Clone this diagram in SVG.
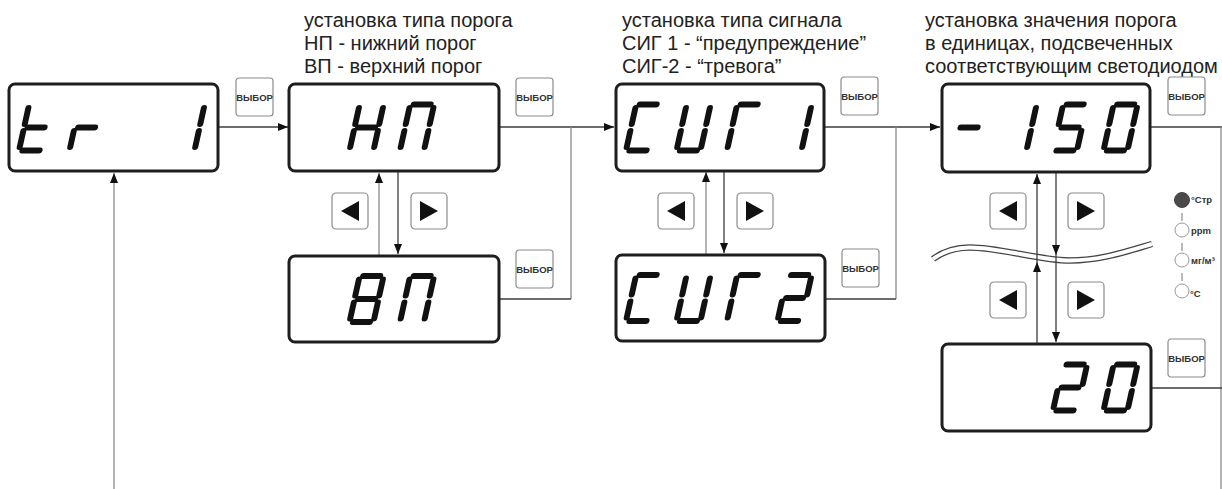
<svg xmlns="http://www.w3.org/2000/svg" xmlns:xlink="http://www.w3.org/1999/xlink" width="1222" height="489" viewBox="0 0 1222 489">
<style>
.disp{fill:#fff;stroke:#1e1e1e;stroke-width:3}
.dig{stroke:#111;stroke-width:6;stroke-linecap:round;fill:none}
.btn{fill:#fff;stroke:#8c8c8c;stroke-width:1.2}
.btxt{font-family:"Liberation Sans",Arial,sans-serif;font-weight:bold;font-size:9.5px;fill:#333;text-anchor:middle}
.tri{fill:#111}
.lbl{font-family:"Liberation Sans",Arial,sans-serif;font-size:20px;fill:#222}
.conn{stroke:#3c3c3c;stroke-width:1.3;fill:none}
.connv{stroke:#8a8a8a;stroke-width:1.3;fill:none}
.led{font-family:"Liberation Sans",Arial,sans-serif;font-weight:bold;font-size:9.5px;fill:#333}
</style>
<defs>
<marker id="ah" viewBox="0 0 10 8" refX="10" refY="4" markerWidth="10" markerHeight="8" markerUnits="userSpaceOnUse" orient="auto">
<path d="M0,0 L10,4 L0,8 z" fill="#111"/>
</marker>
<line id="sa" x1="3.5" y1="-46" x2="20.5" y2="-46"/>
<line id="sb" x1="24" y1="-42.5" x2="24" y2="-26.5"/>
<line id="sc" x1="24" y1="-19.5" x2="24" y2="-3.5"/>
<line id="sd" x1="3.5" y1="0" x2="20.5" y2="0"/>
<line id="se" x1="0" y1="-19.5" x2="0" y2="-3.5"/>
<line id="sf" x1="0" y1="-42.5" x2="0" y2="-26.5"/>
<line id="sg" x1="3.5" y1="-23" x2="20.5" y2="-23"/>
<g id="vybor">
<rect class="btn" x="0" y="0" width="37" height="38" rx="3"/>
<text class="btxt" x="18.5" y="22.5">ВЫБОР</text>
</g>
<g id="bl">
<rect class="btn" x="0" y="0" width="36" height="36" rx="4"/>
<path class="tri" d="M9,18 L27,8 L27,28 z"/>
</g>
<g id="br">
<rect class="btn" x="0" y="0" width="36" height="36" rx="4"/>
<path class="tri" d="M27,18 L9,8 L9,28 z"/>
</g>
</defs>

<rect width="1222" height="489" fill="#fff"/>

<g id="labels">
<text class="lbl" x="304" y="27">установка типа порога</text>
<text class="lbl" x="304" y="50">НП - нижний порог</text>
<text class="lbl" x="304" y="73">ВП - верхний порог</text>
<text class="lbl" x="622" y="27">установка типа сигнала</text>
<text class="lbl" x="622" y="50">СИГ 1 - “предупреждение”</text>
<text class="lbl" x="622" y="73">СИГ-2 - “тревога”</text>
<text class="lbl" x="925" y="27">установка значения порога</text>
<text class="lbl" x="925" y="50">в единицах, подсвеченных</text>
<text class="lbl" x="925" y="73">соответствующим светодиодом</text>
</g>

<g id="wave">
<path d="M933,259 C945,250 957,247.5 970,247.5 C1000,247.5 1040,260.5 1070,260.5 C1100,260.5 1125,252 1152,244" fill="none" stroke="#444" stroke-width="6.5"/>
<path d="M933,259 C945,250 957,247.5 970,247.5 C1000,247.5 1040,260.5 1070,260.5 C1100,260.5 1125,252 1152,244" fill="none" stroke="#fff" stroke-width="4"/>
</g>

<g id="connectors">
<path class="conn" d="M219,127 H288" marker-end="url(#ah)"/>
<path class="conn" d="M500,127 H614" marker-end="url(#ah)"/>
<path class="connv" d="M571,127 V299"/>
<path class="conn" d="M500,299 H571"/>
<path class="conn" d="M825,127 H940" marker-end="url(#ah)"/>
<path class="connv" d="M896,127 V299"/>
<path class="conn" d="M825,299 H896"/>
<path class="conn" d="M1151,127 H1222"/>
<path class="connv" d="M1221,127 V489"/>
<path class="conn" d="M1152,388 H1222"/>
<path class="connv" d="M114,489 V173" marker-end="url(#ah)"/>
<path class="connv" d="M379,255 V173" marker-end="url(#ah)"/>
<path class="conn" d="M398,172 V254" marker-end="url(#ah)"/>
<path class="connv" d="M706,254 V172" marker-end="url(#ah)"/>
<path class="conn" d="M724,172 V253" marker-end="url(#ah)"/>
<path class="conn" d="M1037,343 V262" marker-end="url(#ah)"/>
<path class="conn" d="M1037,262 V174" marker-end="url(#ah)"/>
<path class="conn" d="M1056,173 V255" marker-end="url(#ah)"/>
<path class="conn" d="M1056,255 V342" marker-end="url(#ah)"/>
</g>

<g id="node-tr1">
<rect class="disp" x="9" y="84" width="209" height="87" rx="6"/>
<g class="dig" aria-label="tr 1">
<g transform="translate(19 150.5) skewX(-12.4)"><use href="#sf"/><use href="#se"/><use href="#sg"/><use href="#sd"/></g>
<g transform="translate(69.5 150.5) skewX(-12.4)"><use href="#se"/><use href="#sg"/></g>
<g transform="translate(170.5 150.5) skewX(-12.4)"><use href="#sb"/><use href="#sc"/></g>
</g>
<use href="#vybor" x="236" y="78"/>
</g>

<g id="node-np">
<rect class="disp" x="289" y="84" width="210" height="87" rx="6"/>
<g class="dig" aria-label="НП">
<g transform="translate(349.5 150.5) skewX(-12.4)"><use href="#sb"/><use href="#sc"/><use href="#se"/><use href="#sf"/><use href="#sg"/></g>
<g transform="translate(400 150.5) skewX(-12.4)"><use href="#sa"/><use href="#sb"/><use href="#sc"/><use href="#se"/><use href="#sf"/></g>
</g>
<use href="#vybor" x="516" y="78"/>
<use href="#bl" x="332" y="193"/>
<use href="#br" x="411" y="193"/>
</g>

<g id="node-vp">
<rect class="disp" x="289" y="256" width="210" height="86" rx="6"/>
<g class="dig" aria-label="ВП">
<g transform="translate(349.5 322) skewX(-12.4)"><use href="#sa"/><use href="#sb"/><use href="#sc"/><use href="#sd"/><use href="#se"/><use href="#sf"/><use href="#sg"/></g>
<g transform="translate(400 322) skewX(-12.4)"><use href="#sa"/><use href="#sb"/><use href="#sc"/><use href="#se"/><use href="#sf"/></g>
</g>
<use href="#vybor" x="516" y="250"/>
</g>

<g id="node-sig1">
<rect class="disp" x="616" y="84" width="208" height="87" rx="6"/>
<g class="dig" aria-label="СИГ 1">
<g transform="translate(626 150.5) skewX(-12.4)"><use href="#sa"/><use href="#sd"/><use href="#se"/><use href="#sf"/></g>
<g transform="translate(676.5 150.5) skewX(-12.4)"><use href="#sb"/><use href="#sc"/><use href="#sd"/><use href="#se"/><use href="#sf"/></g>
<g transform="translate(727 150.5) skewX(-12.4)"><use href="#sa"/><use href="#se"/><use href="#sf"/></g>
<g transform="translate(777.5 150.5) skewX(-12.4)"><use href="#sb"/><use href="#sc"/></g>
</g>
<use href="#vybor" x="841" y="77"/>
<use href="#bl" x="658" y="193"/>
<use href="#br" x="737" y="193"/>
</g>

<g id="node-sig2">
<rect class="disp" x="616" y="255" width="209" height="86" rx="6"/>
<g class="dig" aria-label="СИГ 2">
<g transform="translate(626 321) skewX(-12.4)"><use href="#sa"/><use href="#sd"/><use href="#se"/><use href="#sf"/></g>
<g transform="translate(676.5 321) skewX(-12.4)"><use href="#sb"/><use href="#sc"/><use href="#sd"/><use href="#se"/><use href="#sf"/></g>
<g transform="translate(727 321) skewX(-12.4)"><use href="#sa"/><use href="#se"/><use href="#sf"/></g>
<g transform="translate(777.5 321) skewX(-12.4)"><use href="#sa"/><use href="#sb"/><use href="#sg"/><use href="#se"/><use href="#sd"/></g>
</g>
<use href="#vybor" x="842" y="249"/>
</g>

<g id="node-m150">
<rect class="disp" x="942" y="84" width="208" height="88" rx="6"/>
<g class="dig" aria-label="- 150">
<g transform="translate(952 150.5) skewX(-12.4)"><use href="#sg"/></g>
<g transform="translate(1002.5 150.5) skewX(-12.4)"><use href="#sb"/><use href="#sc"/></g>
<g transform="translate(1053 150.5) skewX(-12.4)"><use href="#sa"/><use href="#sf"/><use href="#sg"/><use href="#sc"/><use href="#sd"/></g>
<g transform="translate(1103.5 150.5) skewX(-12.4)"><use href="#sa"/><use href="#sb"/><use href="#sc"/><use href="#sd"/><use href="#se"/><use href="#sf"/></g>
</g>
<use href="#vybor" x="1168" y="77"/>
<use href="#bl" x="990" y="193"/>
<use href="#br" x="1068" y="193"/>
<use href="#bl" x="990" y="282"/>
<use href="#br" x="1068" y="282"/>
</g>

<g id="node-20">
<rect class="disp" x="942" y="344" width="209" height="87" rx="6"/>
<g class="dig" aria-label="20">
<g transform="translate(1053 410.5) skewX(-12.4)"><use href="#sa"/><use href="#sb"/><use href="#sg"/><use href="#se"/><use href="#sd"/></g>
<g transform="translate(1103.5 410.5) skewX(-12.4)"><use href="#sa"/><use href="#sb"/><use href="#sc"/><use href="#sd"/><use href="#se"/><use href="#sf"/></g>
</g>
<use href="#vybor" x="1168" y="339"/>
</g>

<g id="leds">
<circle cx="1182" cy="200" r="7.5" fill="#4a4a4a" stroke="#444" stroke-width="1"/>
<circle cx="1182" cy="230" r="7" fill="#fff" stroke="#999" stroke-width="1"/>
<circle cx="1182" cy="260" r="7" fill="#fff" stroke="#999" stroke-width="1"/>
<circle cx="1182" cy="291" r="7" fill="#fff" stroke="#999" stroke-width="1"/>
<path d="M1182,213 V221 M1182,243 V251 M1182,273 V281" stroke="#777" stroke-width="1"/>
<text class="led" x="1191" y="203">°Стр</text>
<text class="led" x="1191" y="234">ppm</text>
<text class="led" x="1191" y="264" font-size="9">мг/м³</text>
<text class="led" x="1190" y="297" font-size="13">°С</text>
</g>
</svg>
